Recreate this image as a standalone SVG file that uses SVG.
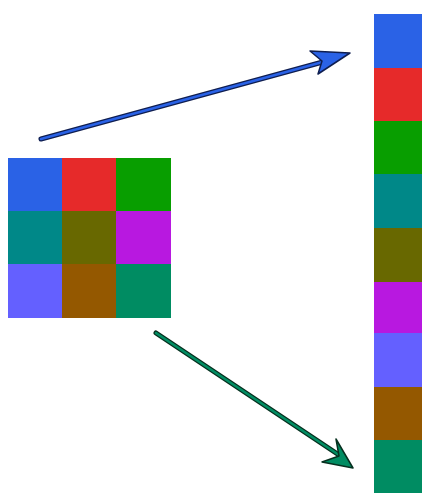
<svg xmlns="http://www.w3.org/2000/svg" width="422" height="493" viewBox="0 0 422 493">
<style>
.c1{fill:#2a62e6}.c2{fill:#e62a2a}.c3{fill:#089e00}.c4{fill:#008888}.c5{fill:#686800}.c6{fill:#b818e0}.c7{fill:#6460ff}.c8{fill:#945800}.c9{fill:#008c62}
.ln{stroke-width:5;stroke-linecap:round;fill:none}
.in{stroke-width:2.5;stroke-linecap:round;fill:none}
.hd{stroke-width:1.5;stroke-linejoin:round}
</style>
<rect width="422" height="493" fill="#fff"/>
<g id="grid">
<rect class="c1" x="8" y="158" width="54" height="53"/>
<rect class="c2" x="62" y="158" width="54" height="53"/>
<rect class="c3" x="116" y="158" width="55" height="53"/>
<rect class="c4" x="8" y="211" width="54" height="53"/>
<rect class="c5" x="62" y="211" width="54" height="53"/>
<rect class="c6" x="116" y="211" width="55" height="53"/>
<rect class="c7" x="8" y="264" width="54" height="54"/>
<rect class="c8" x="62" y="264" width="54" height="54"/>
<rect class="c9" x="116" y="264" width="55" height="54"/>
</g>
<g id="column">
<rect class="c1" x="374" y="14" width="48" height="54"/>
<rect class="c2" x="374" y="68" width="48" height="53"/>
<rect class="c3" x="374" y="121" width="48" height="53"/>
<rect class="c4" x="374" y="174" width="48" height="54"/>
<rect class="c5" x="374" y="228" width="48" height="54"/>
<rect class="c6" x="374" y="282" width="48" height="51"/>
<rect class="c7" x="374" y="333" width="48" height="54"/>
<rect class="c8" x="374" y="387" width="48" height="53"/>
<rect class="c9" x="374" y="440" width="48" height="53"/>
</g>
<g id="connectors">
<line class="ln" x1="41" y1="139" x2="330" y2="60" stroke="#0f1e50"/>
<line class="in" x1="41" y1="139" x2="330" y2="60" stroke="#2a62e6"/>
<polygon class="hd" points="310,51 350,53 318,74 322,61" fill="#2a62e6" stroke="#0f1e50"/>
<line class="ln" x1="156" y1="333" x2="342" y2="457" stroke="#06301f"/>
<line class="in" x1="156" y1="333" x2="342" y2="457" stroke="#008c62"/>
<polygon class="hd" points="336,439 353,468 322,462 339,456" fill="#008c62" stroke="#06301f"/>
</g>
</svg>
